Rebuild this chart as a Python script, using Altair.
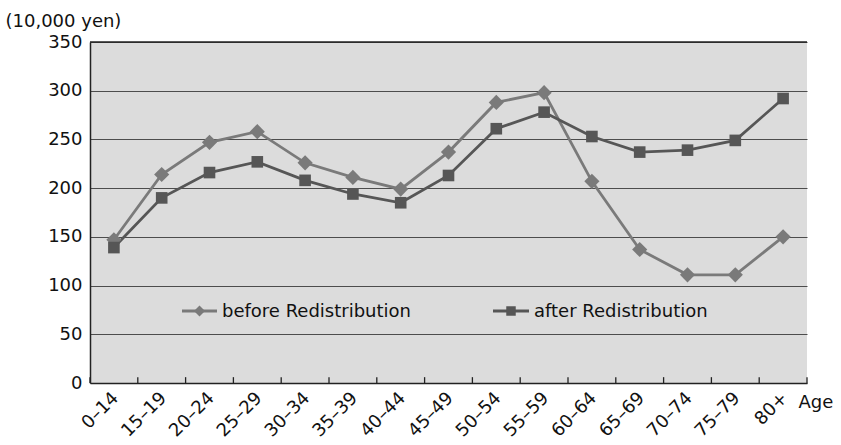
import altair as alt
import pandas as pd

# Annual income per household by age of household head
AGES = ["0–14", "15–19", "20–24", "25–29", "30–34", "35–39", "40–44", "45–49",
        "50–54", "55–59", "60–64", "65–69", "70–74", "75–79", "80+"]
SERIES = ["before Redistribution", "after Redistribution"]
BEFORE = [147, 214, 247, 258, 226, 211, 199, 237, 288, 298, 207, 137, 111, 111, 150]
AFTER = [139, 190, 216, 227, 208, 194, 185, 213, 261, 278, 253, 237, 239, 249, 292]
Y_TICKS = [0, 50, 100, 150, 200, 250, 300, 350]

COLORS = ["#7a7a7a", "#565656"]
SHAPES = ["diamond", "square"]
SIZES = [230, 135]
FONT = "DejaVu Sans"

W, H = 717, 341

df = pd.DataFrame({
    "age": AGES * 2,
    "series": [SERIES[0]] * len(AGES) + [SERIES[1]] * len(AGES),
    "value": BEFORE + AFTER,
})
ages_df = pd.DataFrame({"age": AGES})
one = pd.DataFrame({"k": [0]})

x_enc = alt.X(
    "age:N", sort=AGES,
    scale=alt.Scale(type="band", domain=AGES, paddingInner=0, paddingOuter=0),
    axis=alt.Axis(title="Age", labelAngle=-45, labelAlign="right", labelBaseline="middle",
                  labelPadding=12, labelOffset=2, ticks=False, grid=False,
                  titleAngle=0, titleAlign="left", titleBaseline="middle",
                  titleX=708, titleY=19),
)
y_enc = alt.Y(
    "value:Q",
    scale=alt.Scale(domain=[0, 350], nice=False),
    axis=alt.Axis(title="(10,000 yen)", values=Y_TICKS, ticks=False, labelPadding=8,
                  grid=True, gridColor="#4d4d4d", gridWidth=1.2,
                  titleAngle=0, titleAlign="left", titleBaseline="middle",
                  titleX=-85, titleY=-21),
)
color_enc = alt.Color("series:N", scale=alt.Scale(domain=SERIES, range=COLORS), legend=None)

base = alt.Chart(df).encode(x=x_enc, y=y_enc, color=color_enc)

lines = base.mark_line(strokeWidth=2.8)
points = base.mark_point(filled=True, opacity=1).encode(
    shape=alt.Shape("series:N", scale=alt.Scale(domain=SERIES, range=SHAPES), legend=None),
    size=alt.Size("series:N", scale=alt.Scale(domain=SERIES, range=SIZES), legend=None),
)

# Top frame line of the plot area
top = alt.Chart(one).mark_rule(color="#222", strokeWidth=1.5).encode(y=alt.datum(350))

# Category separators pointing inward from the x axis
ticks = alt.Chart(ages_df).mark_rule(color="#222", strokeWidth=1.3).encode(
    x=alt.X("age:N", sort=AGES, bandPosition=0),
    y=alt.datum(0), y2=alt.datum(6),
)
end_tick = alt.Chart(ages_df).transform_filter(alt.datum.age == AGES[-1]).mark_rule(
    color="#222", strokeWidth=1.3).encode(
    x=alt.X("age:N", sort=AGES, bandPosition=1),
    y=alt.datum(0), y2=alt.datum(6),
)

# Legend drawn inside the plot area
LEG_Y = 269
legend_layers = []
for i, (x0, x1) in enumerate([(92, 127), (403, 439)]):
    mid = (x0 + x1) / 2
    legend_layers.append(alt.Chart(one).mark_rule(color=COLORS[i], strokeWidth=2.8).encode(
        x=alt.value(x0), x2=alt.value(x1), y=alt.value(LEG_Y)))
    legend_layers.append(alt.Chart(one).mark_point(filled=True, opacity=1, color=COLORS[i]).encode(
        x=alt.value(mid), y=alt.value(LEG_Y), shape=alt.value(SHAPES[i]),
        size=alt.value(120 if i == 0 else 90)))
    legend_layers.append(alt.Chart(one).mark_text(
        align="left", baseline="middle", font=FONT, fontSize=18, color="#111").encode(
        x=alt.value(x1 + 5), y=alt.value(LEG_Y + 1), text=alt.value(SERIES[i])))

chart = alt.layer(top, lines, points, ticks, end_tick, *legend_layers).properties(
    width=W, height=H,
    autosize=alt.AutoSizeParams(type="none"),
    padding={"left": 90, "top": 42, "right": 34, "bottom": 62},
    background="white",
).configure_view(
    fill="#dcdcdc", stroke=None,
).configure_axis(
    labelFont=FONT, labelFontSize=18, labelColor="#111",
    titleFont=FONT, titleFontSize=18, titleFontWeight="normal", titleColor="#111",
    domainColor="#222", domainWidth=1.5,
)

chart.save("out.html", embed_options={"renderer": "svg", "actions": False})
